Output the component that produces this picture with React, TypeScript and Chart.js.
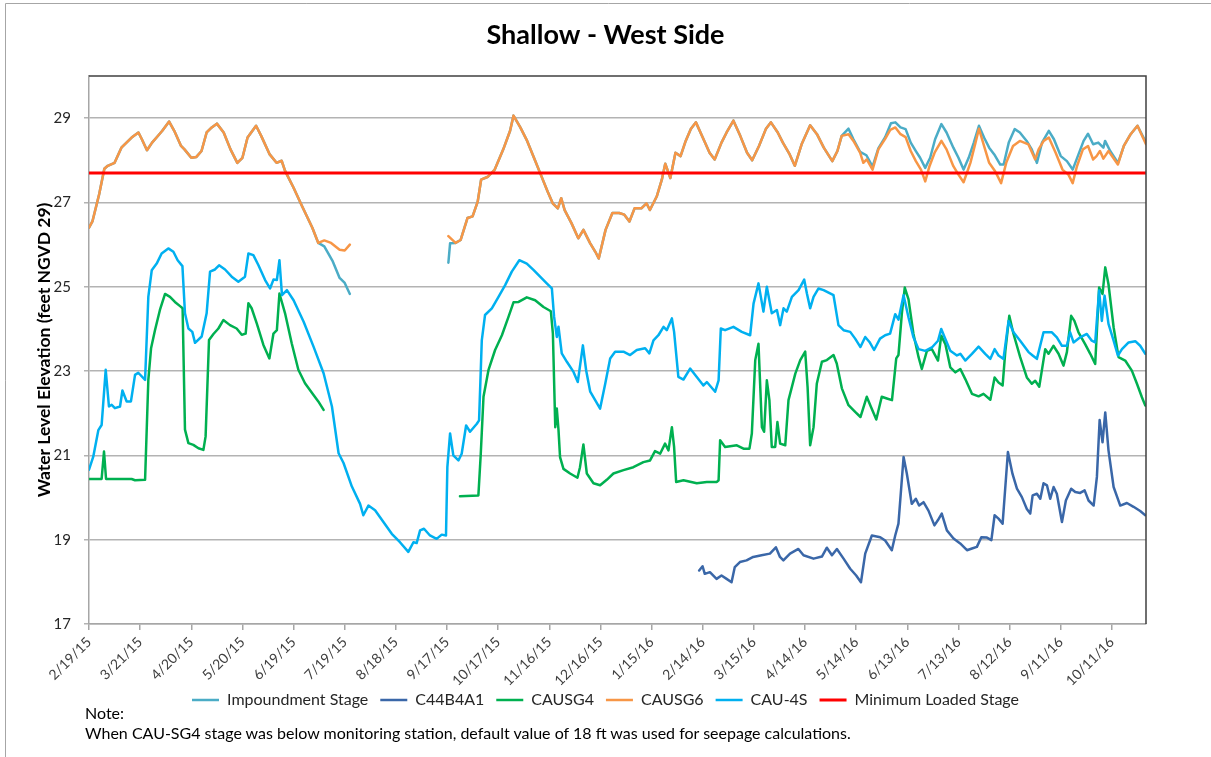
import React, { useEffect, useRef } from 'react';
import { Chart, registerables } from 'chart.js';

Chart.register(...registerables);

// ---------- data ----------
const chartTitle = 'Shallow - West Side';
const yAxisTitle = 'Water Level Elevation (feet NGVD 29)';
const noteLines = [
  'Note:',
  'When CAU-SG4 stage was below monitoring station, default value of 18 ft was used for seepage calculations.',
];

// x values are days since 2/19/15
const tickDays = [0, 30, 60, 90, 120, 150, 180, 210, 240, 270, 300, 330, 360, 390, 420, 450, 480, 510, 540, 570, 600];
const tickLabels = [
  '2/19/15', '3/21/15', '4/20/15', '5/20/15', '6/19/15', '7/19/15', '8/18/15', '9/17/15', '10/17/15', '11/16/15',
  '12/16/15', '1/15/16', '2/14/16', '3/15/16', '4/14/16', '5/14/16', '6/13/16', '7/13/16', '8/12/16', '9/11/16', '10/11/16',
];
const xMaxDay = 620;
const yTicks = [17, 19, 21, 23, 25, 27, 29];
const yMin = 17;
const yMax = 30;

type Pt = [number, number | null];

// shared stage trace (Impoundment Stage and CAUSG6 overlap)
const stageEarly: Pt[] = [
  [0, 26.4], [2, 26.55], [6, 27.2], [9, 27.8], [11, 27.87], [15, 27.94], [19, 28.3], [22, 28.42], [25, 28.54],
  [29, 28.66], [31, 28.5], [34, 28.24], [37, 28.42], [40, 28.56], [43, 28.7], [47, 28.92], [50, 28.7], [54, 28.34],
  [56, 28.26], [60, 28.06], [63, 28.08], [66, 28.22], [69, 28.66], [72, 28.78], [75, 28.87], [79, 28.66], [83, 28.26],
  [87, 27.94], [90, 28.06], [93, 28.54], [98, 28.82], [101, 28.58], [106, 28.14], [110, 27.94], [113, 27.99],
  [115, 27.75], [120, 27.35], [125, 26.91], [131, 26.4], [134.5, 26.04],
];
const causg6TailEarly: Pt[] = [
  [138, 26.1], [142, 26.04], [147, 25.88], [150, 25.86], [153, 26.0], [180, null],
];
const impoundmentTailEarly: Pt[] = [
  [138, 25.96], [143, 25.6], [147, 25.21], [150, 25.09], [153, 24.83], [180, null],
];
const causg6StartLate: Pt[] = [[210.8, 26.2]];
const impoundmentStartLate: Pt[] = [[210.8, 25.57], [211.8, 26.03]];
const stageMiddle: Pt[] = [
  [215, 26.04], [218, 26.11], [222, 26.63], [225, 26.67], [228, 27.02], [230, 27.54], [234, 27.61], [238, 27.78],
  [243, 28.26], [247, 28.7], [249, 29.06], [253, 28.78], [257, 28.46], [261, 28.06], [265, 27.66], [269, 27.26],
  [272, 26.98], [275, 26.86], [277, 27.1], [279, 26.82], [283, 26.51], [287, 26.15], [290, 26.35], [294, 26.03],
  [297, 25.83], [299, 25.67], [303, 26.35], [307, 26.75], [311, 26.75], [314, 26.71], [317, 26.55], [320, 26.86],
  [324, 26.86], [327, 26.98], [329, 26.82], [333, 27.14], [336, 27.54], [338, 27.92], [341, 27.58], [344, 28.18],
  [347, 28.1], [350, 28.46], [353, 28.74], [356, 28.9], [360, 28.54], [364, 28.18], [367, 28.02], [371, 28.42],
  [374, 28.66], [378, 28.94], [382, 28.58], [386, 28.18], [389, 28.0], [393, 28.34], [397, 28.74], [400, 28.9],
  [404, 28.66], [407, 28.42], [411, 28.14], [414, 27.87], [418, 28.38], [423, 28.83], [427, 28.62], [431, 28.3],
  [436, 27.98], [439, 28.22], [441.5, 28.58],
];
const causg6Late: Pt[] = [
  [445.5, 28.62], [448.4, 28.46], [452.3, 28.18], [454.2, 27.94], [456.2, 28.02], [459.6, 27.78], [463, 28.26],
  [467, 28.51], [470, 28.72], [473, 28.78], [476, 28.62], [479, 28.55], [482, 28.22], [485, 27.98], [488, 27.78],
  [490.5, 27.5], [493, 27.86], [496, 28.18], [500, 28.46], [503, 28.26], [507, 27.86], [510, 27.66], [513, 27.48],
  [517, 27.94], [520, 28.42], [522, 28.75], [525, 28.34], [528, 27.94], [531.5, 27.74], [535, 27.46], [538, 27.94],
  [542, 28.34], [546, 28.46], [551, 28.38], [555, 28.02], [557, 28.26], [560, 28.46], [563, 28.54], [567, 28.18],
  [571, 27.78], [574.5, 27.66], [577, 27.46], [579.5, 27.86], [583, 28.26], [586, 28.34], [589, 28.02], [591, 28.1],
  [593, 28.22], [595, 28.04], [598, 28.22], [603.5, 27.9], [607, 28.34], [611, 28.62], [615, 28.82], [620, 28.38],
];
const impoundmentLate: Pt[] = [
  [445.5, 28.75], [448.4, 28.5], [452.3, 28.2], [456, 28.12], [459.6, 27.85], [463, 28.28], [467, 28.55],
  [470.4, 28.88], [473, 28.9], [476, 28.78], [479, 28.74], [482, 28.42], [485, 28.22], [487.5, 28.06], [490.5, 27.82],
  [493.4, 28.06], [496.3, 28.5], [500, 28.86], [503, 28.66], [507, 28.3], [510, 28.06], [513, 27.78], [516, 28.06],
  [519, 28.42], [522, 28.82], [525, 28.54], [528, 28.3], [531, 28.14], [534.5, 27.9], [536.5, 27.9], [539.5, 28.42],
  [543, 28.74], [546, 28.66], [550, 28.46], [553, 28.26], [556, 27.94], [559, 28.42], [563, 28.7], [566, 28.5],
  [570, 28.1], [573.6, 27.98], [577, 27.78], [580.4, 28.14], [583.4, 28.46], [586, 28.63], [589, 28.38], [592, 28.42],
  [595, 28.3], [596, 28.46], [599, 28.22], [603.6, 27.94], [607, 28.34], [611, 28.62], [615, 28.82], [620, 28.42],
];

const c44b4a1: Pt[] = [
  [357.9, 18.27], [359.9, 18.37], [361.2, 18.19], [364.2, 18.23], [368.1, 18.07], [371, 18.15], [374, 18.07],
  [376.9, 17.99], [378.8, 18.35], [381.8, 18.47], [385.7, 18.51], [389.6, 18.59], [394.5, 18.63], [399.4, 18.67],
  [402.9, 18.82], [405.3, 18.59], [407.3, 18.51], [411.2, 18.67], [416.1, 18.78], [419.1, 18.63], [425, 18.55],
  [429.9, 18.6], [432.8, 18.81], [435.8, 18.63], [438.7, 18.78], [442.6, 18.55], [446.5, 18.31], [450, 18.15],
  [452.8, 17.99], [455.3, 18.67], [459.2, 19.1], [464.1, 19.06], [467, 18.98], [470.9, 18.75], [472.9, 19.1],
  [474.8, 19.38], [477.8, 20.96], [479.7, 20.57], [482.6, 19.85], [485, 19.97], [486.9, 19.81], [489.5, 19.89],
  [492.4, 19.69], [495.9, 19.34], [497.9, 19.46], [500.2, 19.62], [503.2, 19.22], [507.1, 19.03], [511, 18.91],
  [515, 18.75], [517.9, 18.79], [520.8, 18.83], [523.4, 19.06], [526.7, 19.05], [529.3, 18.99], [531.2, 19.58],
  [533.5, 19.5], [535.9, 19.38], [539, 21.08], [541.7, 20.56], [544.3, 20.21], [547.2, 20.01], [550.1, 19.73],
  [552.1, 19.62], [553.5, 20.05], [556, 20.09], [558, 19.97], [559.9, 20.34], [561.9, 20.29], [563.8, 19.97],
  [565.8, 20.25], [567.7, 20.09], [570.7, 19.42], [573, 19.93], [576.1, 20.21], [578.5, 20.13], [581.4, 20.11],
  [584, 20.17], [586.3, 19.93], [589.3, 19.81], [591.2, 20.49], [592.8, 21.84], [594.5, 21.31], [596.1, 22.02],
  [598, 21.12], [601, 20.25], [604.9, 19.81], [608.8, 19.87], [612.7, 19.78], [616.6, 19.68], [619.6, 19.58],
];

const causg4: Pt[] = [
  [0, 20.44], [7.4, 20.44], [8.8, 21.09], [10, 20.44], [25, 20.44], [27, 20.41], [32.9, 20.42], [34.8, 22.79],
  [36.4, 23.54], [38.7, 23.97], [41.6, 24.45], [44.6, 24.83], [47.5, 24.76], [50.4, 24.64], [53.4, 24.54],
  [54.9, 24.49], [56.3, 21.61], [58.3, 21.29], [61.2, 21.25], [64.2, 21.17], [67.1, 21.13], [68.4, 21.45],
  [70.4, 23.74], [73, 23.88], [75.9, 24.01], [78.8, 24.21], [82.7, 24.09], [86.6, 24.01], [89.6, 23.86],
  [91.9, 23.89], [93.5, 24.61], [95.4, 24.49], [98.4, 24.13], [102.3, 23.62], [105.8, 23.3], [108.2, 23.89],
  [110.2, 23.97], [111.7, 24.84], [115, 24.37], [118.9, 23.66], [122.8, 23.03], [126.7, 22.71], [131.7, 22.43],
  [134.5, 22.28], [137.6, 22.08], [180, null],
  [217.6, 20.03], [228.4, 20.05], [229.8, 21.04], [231.4, 22.39], [234.3, 23.02], [238.2, 23.5], [242.2, 23.85],
  [246.1, 24.29], [249, 24.63], [252, 24.64], [256.8, 24.75], [261.7, 24.68], [266.6, 24.52], [270.9, 24.42],
  [272.1, 23.89], [273.5, 21.67], [274.4, 22.11], [275.4, 21.6], [276.3, 20.96], [278.3, 20.68], [282.2, 20.57],
  [286.5, 20.47], [288, 20.72], [290, 21.26], [292, 20.57], [295.9, 20.34], [299.8, 20.29], [303.7, 20.42],
  [307.6, 20.57], [313.5, 20.65], [319.3, 20.72], [325.2, 20.84], [329.1, 20.88], [332, 21.1], [335, 21.04],
  [337.9, 21.28], [339.9, 21.12], [341.9, 21.67], [343.2, 21.2], [344.4, 20.37], [348.7, 20.41], [356.5, 20.34],
  [362.4, 20.37], [368.3, 20.37], [369.3, 20.41], [370.2, 21.36], [373.1, 21.2], [380, 21.24], [383.9, 21.16],
  [387.4, 21.16], [388.8, 21.52], [390.8, 23.26], [392.7, 23.65], [394.7, 21.67], [396, 21.56], [397.6, 22.78],
  [399.1, 22.31], [400.5, 21.2], [402.5, 21.2], [403.8, 21.79], [405.4, 21.28], [408.4, 21.24], [410.3, 22.31],
  [414.3, 22.94], [417.2, 23.26], [420.1, 23.46], [421.5, 22.62], [423, 21.24], [425, 21.67], [426.9, 22.7],
  [429.9, 23.22], [432.8, 23.26], [436.7, 23.38], [438.6, 23.18], [441.6, 22.59], [445.5, 22.19], [449.4, 22.03],
  [452.5, 21.91], [456.2, 22.39], [458.7, 22.15], [461.8, 21.85], [465, 22.39], [468, 22.35], [471, 22.31],
  [473.5, 23.3], [474.8, 23.38], [476.8, 24.37], [478.5, 24.98], [480.7, 24.7], [483.6, 23.88], [486.6, 23.33],
  [488.5, 23.05], [491.5, 23.48], [494.4, 23.52], [498, 23.25], [499.9, 23.84], [502.3, 23.64], [505.2, 23.09],
  [508.2, 22.97], [511.1, 23.05], [514, 22.81], [517.9, 22.46], [521.8, 22.4], [524.7, 22.46], [528.7, 22.32],
  [531.2, 22.85], [533.5, 22.73], [535.9, 22.66], [537.5, 23.48], [539.8, 24.31], [542.3, 23.88], [546.2, 23.33],
  [550.1, 22.85], [553, 22.7], [555, 22.77], [557.4, 22.63], [560.9, 23.52], [562.8, 23.41], [565.7, 23.6],
  [568.7, 23.41], [571.6, 23.13], [573.6, 23.45], [576.1, 24.31], [578, 24.19], [580.4, 23.92], [584.3, 23.64],
  [587.3, 23.41], [590.2, 23.17], [592.5, 24.98], [594.5, 24.83], [596.1, 25.46], [598, 25.06], [601, 24.04],
  [603.9, 23.33], [607.8, 23.25], [611.7, 23.01], [614.7, 22.7], [617.6, 22.38], [619.6, 22.18],
];

const cau4s: Pt[] = [
  [0, 20.66], [2.5, 20.97], [5.5, 21.6], [7.4, 21.72], [9.8, 23.03], [11.7, 22.16], [13.3, 22.2], [15.2, 22.12],
  [18.2, 22.16], [19.6, 22.54], [22.1, 22.28], [24.6, 22.28], [27, 22.91], [28.9, 22.96], [32.9, 22.79],
  [34.8, 24.76], [36.8, 25.39], [39.7, 25.55], [42.6, 25.79], [46.5, 25.91], [49.5, 25.83], [52, 25.63],
  [54.8, 25.49], [56.3, 24.37], [58.3, 24.01], [60.6, 23.93], [62.2, 23.67], [66.1, 23.82], [69, 24.37],
  [71, 25.36], [73.9, 25.41], [76.3, 25.51], [79.8, 25.41], [83.7, 25.24], [87.6, 25.12], [91.5, 25.24],
  [93.5, 25.79], [96.4, 25.75], [99.4, 25.51], [103.3, 25.16], [106.2, 24.96], [108.2, 25.17], [110.2, 25.16],
  [111.7, 25.63], [113.2, 24.8], [116.1, 24.92], [120, 24.68], [125.9, 24.17], [131.7, 23.58], [137.6, 22.95],
  [142.5, 22.16], [146.4, 21.05], [149.3, 20.82], [154.2, 20.26], [159, 19.85], [160.9, 19.58], [163.9, 19.81],
  [167.8, 19.7], [172.7, 19.42], [177.6, 19.14], [182.4, 18.94], [187.3, 18.71], [190.3, 18.94], [192.2, 18.92],
  [194.2, 19.22], [196.5, 19.26], [200, 19.1], [203.9, 19.02], [206.9, 19.12], [209.4, 19.1], [210.2, 20.72],
  [211.8, 21.52], [213.7, 21.0], [216.7, 20.88], [218.6, 21.04], [221.2, 21.71], [223.5, 21.56], [227.5, 21.75],
  [228.8, 21.83], [230.4, 23.73], [232.3, 24.33], [236.3, 24.49], [240.2, 24.76], [244.1, 25.04], [248, 25.36],
  [252.4, 25.63], [256.8, 25.55], [260.7, 25.4], [264.6, 25.24], [268.5, 25.08], [271.5, 24.96], [272.8, 24.29],
  [274.4, 23.81], [275.4, 24.05], [277.3, 23.42], [280.3, 23.22], [284.2, 22.98], [286.7, 22.74], [289.7, 23.61],
  [291.6, 23.02], [294, 22.51], [296.9, 22.31], [299.8, 22.11], [302.8, 22.7], [305.7, 23.3], [308.6, 23.46],
  [313.5, 23.46], [317.4, 23.38], [321.3, 23.5], [326.2, 23.54], [328.7, 23.42], [331.1, 23.73], [334, 23.85],
  [337, 24.05], [338.9, 23.97], [341.9, 24.25], [343.2, 23.93], [345.7, 22.86], [348.7, 22.8], [352.6, 23.06],
  [356.5, 22.86], [360.4, 22.66], [362.4, 22.74], [367.3, 22.51], [369.3, 22.78], [370.6, 24.01], [373.1, 23.97],
  [378, 24.05], [382.9, 23.93], [387.8, 23.85], [389.8, 24.6], [392.7, 25.08], [395.6, 24.41], [397.6, 25.0],
  [400.5, 24.37], [403.5, 24.45], [405.4, 24.09], [407.4, 24.49], [409.3, 24.41], [412.3, 24.76], [416.2, 24.92],
  [419.5, 25.17], [421.1, 24.84], [423, 24.49], [425, 24.76], [427.9, 24.96], [430.9, 24.92], [436.7, 24.8],
  [439.6, 24.09], [442.6, 23.97], [446.5, 23.93], [449.4, 23.77], [452.5, 23.57], [455.3, 23.81], [457.8, 23.69],
  [460.5, 23.5], [464, 23.77], [467, 23.85], [469.9, 23.89], [472.9, 24.35], [474.8, 24.22], [477.8, 24.8],
  [480.7, 24.27], [483.6, 23.8], [486.6, 23.52], [490.5, 23.48], [494.4, 23.56], [498, 23.72], [499.9, 24.0],
  [502.3, 23.76], [505.2, 23.48], [509.1, 23.37], [511.1, 23.41], [514, 23.25], [517.9, 23.41], [521.8, 23.58],
  [525.7, 23.41], [528.7, 23.29], [531.2, 23.52], [533.5, 23.37], [536.4, 23.29], [539.4, 24.19], [542.3, 23.92],
  [546.2, 23.72], [551.1, 23.45], [553.5, 23.37], [556, 23.29], [559.9, 23.92], [564.8, 23.92], [567.7, 23.8],
  [570.7, 23.6], [573.6, 23.6], [575.5, 23.92], [577.5, 23.68], [581.4, 23.8], [585.3, 23.88], [588.2, 23.72],
  [590.2, 23.68], [592.5, 24.91], [594.1, 24.19], [595.7, 24.79], [598, 24.12], [601, 23.72], [603.5, 23.37],
  [605.9, 23.52], [609.8, 23.68], [613.7, 23.71], [616.6, 23.6], [619.6, 23.41],
];

const minimumLoadedStage = 27.7;

// assembled series
const impoundmentStage: Pt[] = [...stageEarly, ...impoundmentTailEarly, ...impoundmentStartLate, ...stageMiddle, ...impoundmentLate];
const causg6: Pt[] = [...stageEarly, ...causg6TailEarly, ...causg6StartLate, ...stageMiddle, ...causg6Late];
const minimumLoaded: Pt[] = [[0, minimumLoadedStage], [xMaxDay, minimumLoadedStage]];

const seriesNames = ['Impoundment Stage', 'C44B4A1', 'CAUSG4', 'CAUSG6', 'CAU-4S', 'Minimum Loaded Stage'];
const seriesData = [impoundmentStage, c44b4a1, causg4, causg6, cau4s, minimumLoaded];
const seriesColors = ['#4BACC6', '#3A67A8', '#00B050', '#F79646', '#00B0F0', '#FF0000'];
const seriesWidths = [2.5, 2.5, 2.5, 2.5, 2.5, 3];

const FONT = 'Lato, "Noto Sans", sans-serif';

const framePlugin = {
  id: 'frame',
  beforeDraw(chart: any) {
    const { ctx, width, height } = chart;
    ctx.save();
    ctx.fillStyle = '#ffffff';
    ctx.fillRect(0, 0, width, height);
    ctx.strokeStyle = '#A6A6A6';
    ctx.lineWidth = 1;
    ctx.beginPath();
    ctx.moveTo(5.5, height);
    ctx.lineTo(5.5, 3.5);
    ctx.lineTo(width, 3.5);
    ctx.stroke();
    ctx.restore();
  },
  afterDraw(chart: any) {
    const { ctx, chartArea } = chart;
    const { left, top, right, bottom } = chartArea;
    ctx.save();
    ctx.strokeStyle = '#404040';
    ctx.lineWidth = 1.5;
    ctx.beginPath();
    ctx.moveTo(left, top);
    ctx.lineTo(right, top);
    ctx.lineTo(right, bottom);
    ctx.stroke();
    ctx.restore();
  },
};

export default function App() {
  const canvasRef = useRef<HTMLCanvasElement | null>(null);

  useEffect(() => {
    if (!canvasRef.current) return;
    const datasets = seriesNames.map((name, i) => ({
      label: name,
      data: seriesData[i].map(([x, y]) => ({ x, y })),
      borderColor: seriesColors[i],
      backgroundColor: seriesColors[i],
      borderWidth: seriesWidths[i],
      pointRadius: 0,
      tension: 0,
      fill: false,
      spanGaps: false,
      borderJoinStyle: 'round' as const,
      borderCapStyle: 'round' as const,
      order: seriesNames.length - i,
    }));

    const chart = new Chart(canvasRef.current, {
      type: 'line',
      data: { datasets },
      plugins: [framePlugin],
      options: {
        animation: false,
        responsive: false,
        events: [],
        layout: { padding: { left: 0, right: 0, top: 0, bottom: 39 } },
        plugins: {
          tooltip: { enabled: false },
          title: {
            display: true,
            text: chartTitle,
            color: '#000000',
            font: { family: FONT, size: 27, weight: 'bold' },
            padding: { top: 18.8, bottom: 24.8 },
          },
          legend: {
            display: true,
            position: 'bottom',
            labels: {
              usePointStyle: true,
              pointStyle: 'line',
              pointStyleWidth: 27,
              padding: 12,
              color: '#262626',
              font: { family: FONT, size: 16 },
              sort: (a: any, b: any) => a.datasetIndex - b.datasetIndex,
            },
          },
        },
        scales: {
          x: {
            type: 'linear',
            min: 0,
            max: xMaxDay,
            afterBuildTicks: (axis: any) => {
              axis.ticks = tickDays.map((v) => ({ value: v }));
            },
            afterFit: (scale: any) => {
              scale.height = 56;
              // let the rotated tick labels extend freely below the axis
              scale._computeLabelArea = () => undefined;
            },
            grid: { drawOnChartArea: false, drawTicks: true, tickLength: 6, color: '#A6A6A6', lineWidth: 1.5 },
            border: { display: true, color: '#A6A6A6', width: 1.5 },
            ticks: {
              autoSkip: false,
              minRotation: 45,
              maxRotation: 45,
              padding: 4,
              color: '#404040',
              font: { family: FONT, size: 14 },
              callback: (_v: any, index: number) => tickLabels[index],
            },
          },
          y: {
            type: 'linear',
            position: 'left',
            min: yMin,
            max: yMax,
            afterBuildTicks: (axis: any) => {
              axis.ticks = yTicks.map((v) => ({ value: v }));
            },
            afterFit: (scale: any) => {
              scale.width = 89;
            },
            grid: { color: '#B3B3B3', lineWidth: 1.5, tickLength: 5, drawTicks: true },
            border: { display: true, color: '#A6A6A6', width: 1.5 },
            ticks: {
              padding: 13,
              color: '#262626',
              font: { family: FONT, size: 15 },
              callback: (v: any) => String(v),
            },
            title: {
              display: true,
              text: yAxisTitle,
              color: '#000000',
              font: { family: FONT, size: 17.5, weight: 'bold' },
              padding: { top: 34, bottom: 0 },
            },
          },
          yRight: {
            type: 'linear',
            position: 'right',
            display: true,
            grid: { display: false, drawTicks: false },
            border: { display: false },
            ticks: { display: false },
            afterFit: (scale: any) => {
              scale.width = 65;
            },
          },
        },
      } as any,
    });
    return () => chart.destroy();
  }, []);

  return (
    <div style={{ position: 'fixed', left: 0, top: 0, width: 1211, height: 757, background: '#ffffff', overflow: 'hidden' }}>
      <canvas ref={canvasRef} width={1211} height={757} style={{ display: 'block', width: 1211, height: 757 }} />
      <div
        style={{
          position: 'absolute',
          left: 85,
          top: 703,
          fontFamily: FONT,
          fontSize: 16,
          lineHeight: '20px',
          color: '#000000',
          whiteSpace: 'nowrap',
        }}
      >
        {noteLines.map((line) => (
          <div key={line}>{line}</div>
        ))}
      </div>
    </div>
  );
}
